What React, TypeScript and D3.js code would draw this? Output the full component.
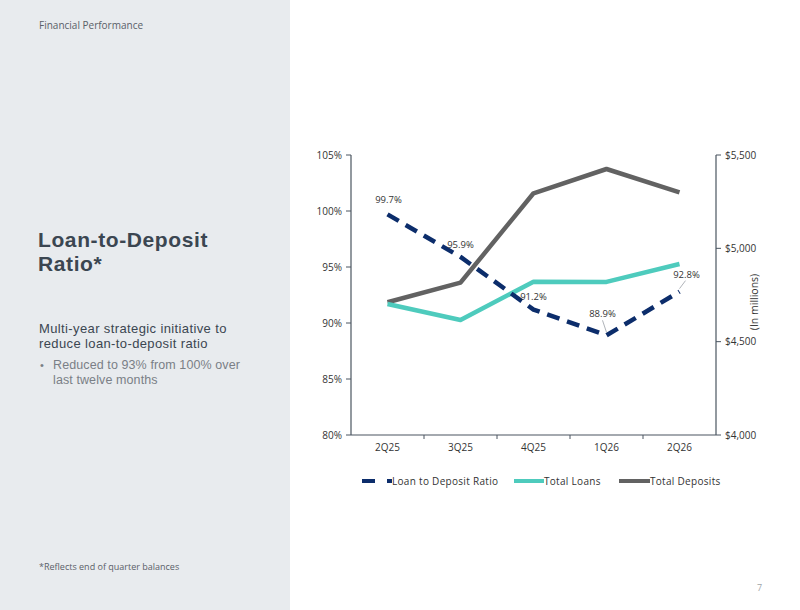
import React from "react";
import * as d3 from "d3";

const categories = ["2Q25", "3Q25", "4Q25", "1Q26", "2Q26"];
const ldRatio = [99.7, 95.9, 91.2, 88.9, 92.8];
const ldLabels = ["99.7%", "95.9%", "91.2%", "88.9%", "92.8%"];
const totalLoans = [4702, 4616, 4821, 4820, 4916];
const totalDeposits = [4711, 4816, 5295, 5425, 5300];
const leftTicks = [80, 85, 90, 95, 100, 105];
const rightTicks = [4000, 4500, 5000, 5500];

const FONT = "'Open Sans', 'Noto Sans', sans-serif";
const PANEL_FONT = "'Liberation Sans', Arial, sans-serif";
const NAVY = "#0c2d6b";
const TEAL = "#4ecbbd";
const GRAY = "#626262";
const AXIS = "#4a5560";

export default function App() {
  const left = 351, right = 716, top = 155, bottom = 435;
  const x = d3.scaleBand<string>().domain(categories).range([left, right]);
  const yL = d3.scaleLinear().domain([80, 105]).range([bottom, top]);
  const yR = d3.scaleLinear().domain([4000, 5500]).range([bottom, top]);
  const cx = (c: string) => (x(c) as number) + x.bandwidth() / 2;

  const lineL = d3.line<number>().x((_, i) => cx(categories[i])).y((d) => yL(d));
  const lineR = d3.line<number>().x((_, i) => cx(categories[i])).y((d) => yR(d));

  // label offsets (dx, dy) relative to point, optional leader end offsets
  const labelPos = [
    { dx: 1, dy: -11, leader: null as null | number[] },
    { dx: 0, dy: -9, leader: null },
    { dx: 0, dy: -10, leader: null },
    { dx: -4, dy: -18, leader: [-4, -15, 0, -3] },
    { dx: 7, dy: -14, leader: [6, -11, 0, -3] },
  ];

  const boundaries = categories.slice(1).map((c) => x(c) as number);

  return (
    <svg
      width={800}
      height={610}
      style={{ position: "absolute", left: 0, top: 0, background: "#ffffff" }}
      fontFamily={FONT}
    >
      <rect x={0} y={0} width={800} height={610} fill="#ffffff" />
      <rect x={0} y={0} width={290} height={610} fill="#e8ebee" />

      <text x={39} y={29} fontSize={10} fill="#5a6068">Financial Performance</text>

      <g fontFamily={PANEL_FONT}>
        <text x={38} y={247} fontSize={21} fill="#3b4651" fontWeight={700} letterSpacing={0.6}>
          Loan-to-Deposit
        </text>
        <text x={38} y={271} fontSize={21} fill="#3b4651" fontWeight={700} letterSpacing={0.6}>
          Ratio*
        </text>

        <text x={39} y={333} fontSize={13} fill="#3b4651" letterSpacing={0.38}>
          Multi-year strategic initiative to
        </text>
        <text x={39} y={348} fontSize={13} fill="#3b4651" letterSpacing={0.38}>
          reduce loan-to-deposit ratio
        </text>
        <text x={40} y={369} fontSize={11} fill="#7a7f86">•</text>
        <text x={53} y={369} fontSize={12.5} fill="#7a7f86" letterSpacing={0.1}>
          Reduced to 93% from 100% over
        </text>
        <text x={53} y={384} fontSize={12.5} fill="#7a7f86" letterSpacing={0.1}>
          last twelve months
        </text>
      </g>

      <text x={39} y={570} fontSize={9} fill="#5a6068">*Reflects end of quarter balances</text>
      <text x={757} y={591} fontSize={9} fill="#a0a4a8">7</text>

      {/* axes */}
      <line x1={left} x2={left} y1={top} y2={bottom} stroke={AXIS} strokeWidth={1.2} />
      <line x1={right} x2={right} y1={top} y2={bottom} stroke={AXIS} strokeWidth={1.2} />
      <line x1={left} x2={right} y1={bottom} y2={bottom} stroke={AXIS} strokeWidth={1.2} />
      {boundaries.map((b, i) => (
        <line key={i} x1={b} x2={b} y1={bottom} y2={bottom + 4} stroke={AXIS} strokeWidth={1} />
      ))}
      {leftTicks.map((t) => (
        <g key={t}>
          <line x1={left - 5} x2={left} y1={yL(t)} y2={yL(t)} stroke={AXIS} strokeWidth={1} />
          <text x={left - 9} y={yL(t)} dy="0.35em" textAnchor="end" fontSize={10} fill="#333">
            {t}%
          </text>
        </g>
      ))}
      {rightTicks.map((t) => (
        <g key={t}>
          <line x1={right} x2={right + 5} y1={yR(t)} y2={yR(t)} stroke={AXIS} strokeWidth={1} />
          <text x={right + 9} y={yR(t)} dy="0.35em" textAnchor="start" fontSize={10} fill="#333">
            {"$" + d3.format(",")(t)}
          </text>
        </g>
      ))}
      {categories.map((c) => (
        <text key={c} x={cx(c)} y={451} textAnchor="middle" fontSize={10} fill="#333" fontWeight={500}>
          {c}
        </text>
      ))}
      <text
        transform={`translate(758,${(top + bottom) / 2 + 7}) rotate(-90)`}
        textAnchor="middle"
        fontSize={10.5}
        fill="#333"
      >
        (In millions)
      </text>

      {/* series */}
      <path d={lineR(totalDeposits) as string} fill="none" stroke={GRAY} strokeWidth={4.5} strokeLinejoin="round" />
      <path d={lineR(totalLoans) as string} fill="none" stroke={TEAL} strokeWidth={4.5} strokeLinejoin="round" />
      <path
        d={lineL(ldRatio) as string}
        fill="none"
        stroke={NAVY}
        strokeWidth={4.5}
        strokeDasharray="13,8"
        strokeLinejoin="round"
      />

      {ldRatio.map((v, i) => {
        const px = cx(categories[i]);
        const py = yL(v);
        const p = labelPos[i];
        return (
          <g key={i}>
            {p.leader && (
              <line
                x1={px + p.leader[0]}
                y1={py + p.leader[1]}
                x2={px + p.leader[2]}
                y2={py + p.leader[3]}
                stroke="#9aa0a6"
                strokeWidth={0.8}
              />
            )}
            <text x={px + p.dx} y={py + p.dy} textAnchor="middle" fontSize={9.5} fill="#333">
              {ldLabels[i]}
            </text>
          </g>
        );
      })}

      {/* legend */}
      <line x1={362} x2={392} y1={481} y2={481} stroke={NAVY} strokeWidth={4} strokeDasharray="13,12" />
      <text x={392} y={481} dy="0.35em" fontSize={10} letterSpacing={0.3} fill="#333">Loan to Deposit Ratio</text>
      <line x1={514} x2={544} y1={481} y2={481} stroke={TEAL} strokeWidth={4} />
      <text x={544} y={481} dy="0.35em" fontSize={10} letterSpacing={0.3} fill="#333">Total Loans</text>
      <line x1={619} x2={650} y1={481} y2={481} stroke={GRAY} strokeWidth={4} />
      <text x={650} y={481} dy="0.35em" fontSize={10} letterSpacing={0.3} fill="#333">Total Deposits</text>
    </svg>
  );
}
